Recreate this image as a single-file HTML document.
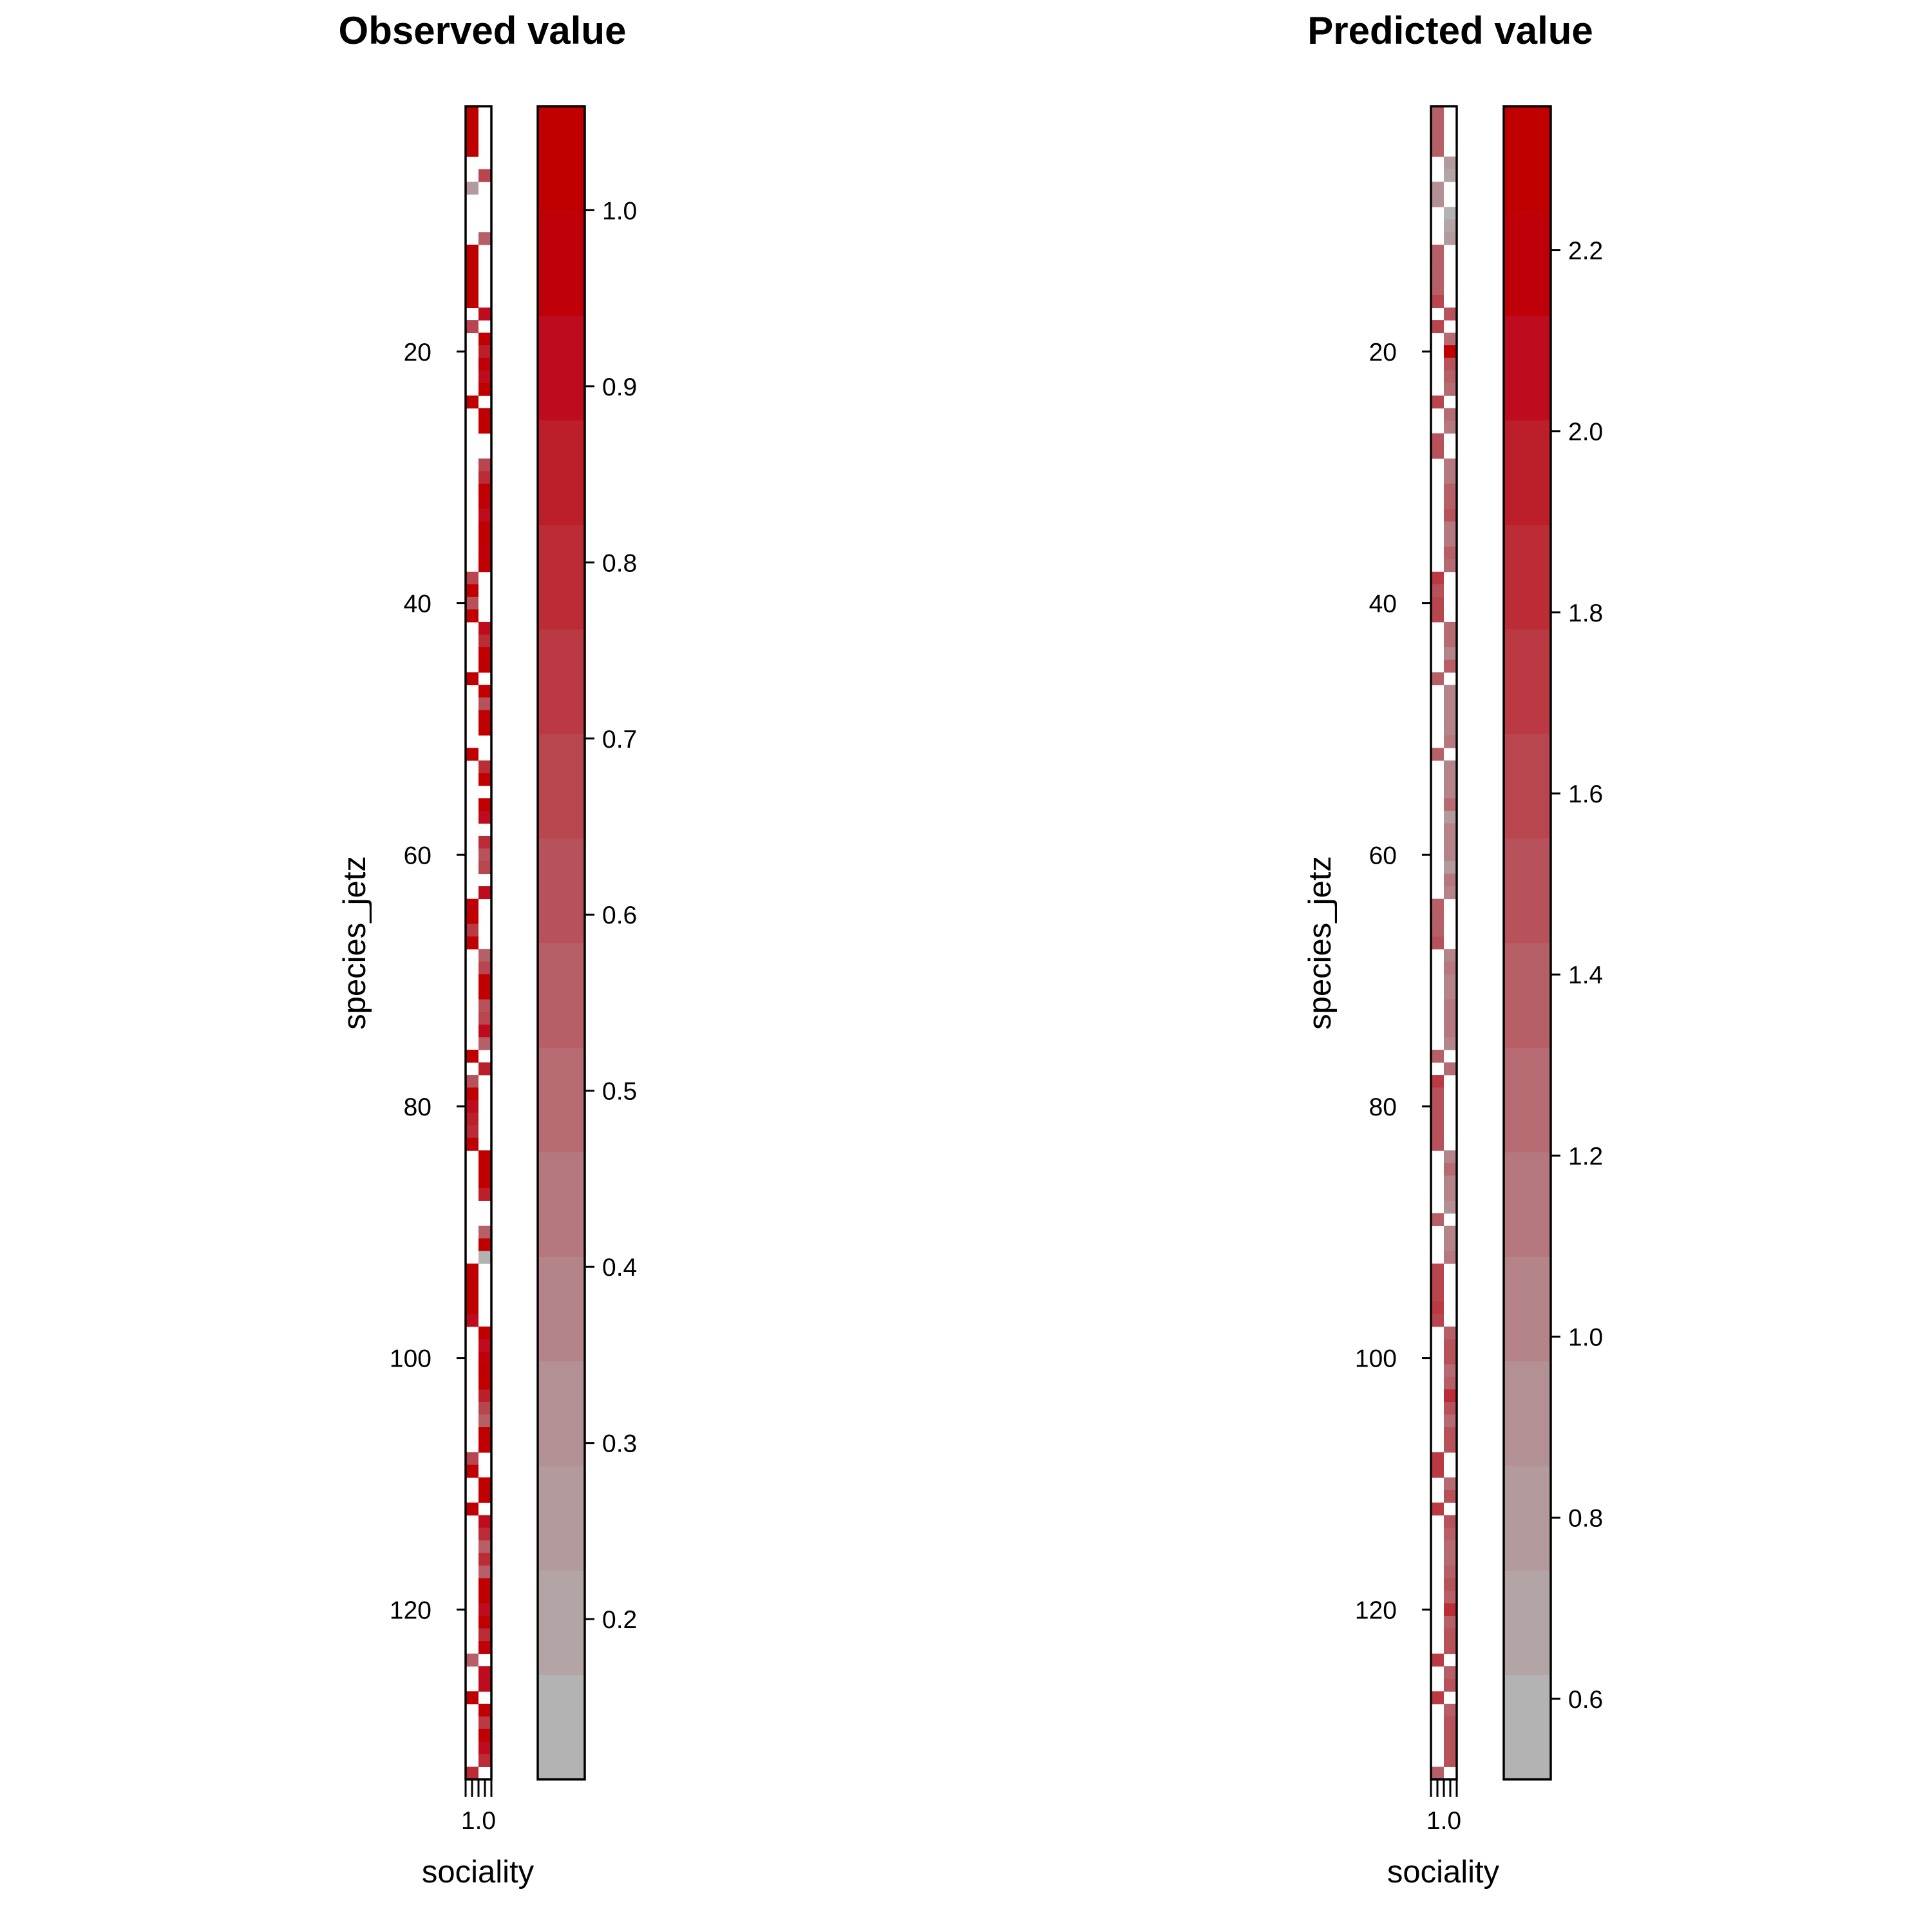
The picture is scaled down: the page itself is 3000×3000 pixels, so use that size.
<!DOCTYPE html>
<html><head><meta charset="utf-8"><style>
html,body{margin:0;padding:0;background:#fff}
svg{display:block}
text{font-family:"Liberation Sans",Arial,sans-serif;fill:#000}
</style></head><body>
<svg id="chart" xmlns="http://www.w3.org/2000/svg" width="3000" height="3000" viewBox="0 0 3000 3000"></svg>
<script>
// ---- data ----
// side: 0 = empty, 1 = left column, 2 = right column
const obsSide = [1,1,1,1,0,2,1,0,0,0,2,1,1,1,1,1,2,1,2,2,2,2,2,1,2,2,0,0,2,2,2,2,2,2,2,2,2,1,1,1,1,2,2,2,2,1,2,2,2,2,0,1,2,2,0,2,2,0,2,2,2,0,2,1,1,1,1,2,2,2,2,2,2,2,2,1,2,1,1,1,1,1,1,2,2,2,2,0,0,2,2,2,1,1,1,1,1,2,2,2,2,2,2,2,2,2,2,1,1,2,2,1,2,2,2,2,2,2,2,2,2,2,2,1,2,2,1,2,2,2,2,2,1];
const obsVal = [1,1,1,1,0,0.65,0.25,0,0,0,0.55,1,1,1,1,1,0.9,0.65,1,0.85,0.95,0.9,1,1,1,1,0,0,0.7,0.8,1,0.95,0.9,1,1,0.95,1,0.7,1,0.6,1,0.9,0.8,1,1,1,1,0.6,1,1,0,1,0.8,1,0,1,0.9,0,0.8,0.6,0.7,0,0.9,0.95,1,0.75,1,0.55,0.65,1,1,0.6,0.65,0.9,0.55,1,0.85,0.6,1,0.9,0.85,0.8,1,1,1,1,0.85,0,0,0.55,1,0.15,1,1,1,1,0.9,1,0.9,0.95,1,1,0.85,0.7,0.55,1,1,0.7,1,1,1,1,0.9,0.8,0.55,0.8,0.55,1,1,0.9,1,0.8,0.95,0.55,0.9,0.9,1,1,0.75,1,0.9,0.8,0.8];
const predSide = [1,1,1,1,2,2,1,1,2,2,2,1,1,1,1,1,2,1,2,2,2,2,2,1,2,2,1,1,2,2,2,2,2,2,2,2,2,1,1,1,1,2,2,2,2,1,2,2,2,2,2,1,2,2,2,2,2,2,2,2,2,2,2,1,1,1,1,2,2,2,2,2,2,2,2,1,2,1,1,1,1,1,1,2,2,2,2,2,1,2,2,2,1,1,1,1,1,2,2,2,2,2,2,2,2,2,2,1,1,2,2,1,2,2,2,2,2,2,2,2,2,2,2,1,2,2,1,2,2,2,2,2,1];
const predVal = [1.4,1.4,1.4,1.4,0.8,0.65,0.9,0.9,0.6,0.7,0.75,1.4,1.4,1.4,1.35,1.6,1.45,1.6,1.3,2.3,1.5,1.4,1.25,1.6,1.25,1.2,1.5,1.5,1.2,1.2,1.4,1.35,1.5,1.1,1.15,1.4,1.3,1.7,1.45,1.6,1.6,1.3,1.3,1.0,1.4,1.35,1.0,1.0,1.0,1.05,1.1,1.35,1.0,1.0,1.0,1.3,0.85,1.0,1.0,1.0,0.85,1.1,1.0,1.4,1.4,1.4,1.5,1.0,1.1,1.0,1.0,1.1,1.1,1.2,1.0,1.4,1.3,1.7,1.45,1.5,1.45,1.45,1.5,1.0,1.3,1.0,1.0,0.9,1.4,1.0,1.0,1.1,1.6,1.6,1.6,1.7,1.65,1.4,1.45,1.5,1.3,1.4,1.8,1.5,1.3,1.5,1.45,1.7,1.7,1.3,1.5,1.7,1.45,1.4,1.3,1.3,1.35,1.45,1.4,1.8,1.4,1.45,1.5,1.7,1.4,1.5,1.75,1.35,1.45,1.5,1.45,1.5,1.4];
const yTicks = [20,40,60,80,100,120];
const obsCbTicks = [0.2,0.3,0.4,0.5,0.6,0.7,0.8,0.9,1.0];
const predCbTicks = [0.6,0.8,1.0,1.2,1.4,1.6,1.8,2.0,2.2];
const obsRange = [0.109,1.059];
const predRange = [0.511,2.359];
const palette = ["#B3B3B3","#B3A5A6","#B39A9C","#B39093","#B48489","#B5787E","#B66B72","#B75F66","#B8525A","#B9454E","#BA3942","#BB2C36","#BC1E2A","#BE0C1E","#C00008","#C00000"];

const NS="http://www.w3.org/2000/svg";
const svg=document.getElementById('chart');
function mk(tag,attrs,parent){const e=document.createElementNS(NS,tag);for(const k in attrs)e.setAttribute(k,attrs[k]);(parent||svg).appendChild(e);return e;}
const TOP=165,BOT=2763,N=obsSide.length,RH=(BOT-TOP)/N;
function yRow(i){return TOP+i*RH;}
function yTick(v){return TOP+(v-0.5)*RH;}
function colorFor(v,r){let k=Math.floor((v-r[0])/(r[1]-r[0])*palette.length);k=Math.max(0,Math.min(palette.length-1,k));return palette[k];}

function panel(cfg){
  const g=mk('g',{});
  
  
  const t=mk('text',{x:cfg.tx,y:68,'text-anchor':'middle','font-size':60,'font-weight':'bold'},g);
  t.textContent=cfg.title;
  
  
  for(let i=0;i<N;i++){
    if(!cfg.side[i])continue;
    const x=cfg.hx+(cfg.side[i]-1)*20;
    const r=mk('rect',{x:x,y:yRow(i),width:20,height:RH+0.5,fill:colorFor(cfg.val[i],cfg.range)},g);
    
    
  }
  const box=mk('rect',{x:cfg.hx,y:TOP,width:40,height:BOT-TOP,fill:'none',stroke:'#000','stroke-width':3.5},g);
  
  
  yTicks.forEach(v=>{
    const y=yTick(v);
    mk('line',{x1:cfg.hx-14,x2:cfg.hx,y1:y,y2:y,stroke:'#000','stroke-width':3},g);
    const l=mk('text',{x:cfg.hx-53,y:y+14,'text-anchor':'end','font-size':39},g);
    l.textContent=v;
    
    
  });
  const yt=mk('text',{x:0,y:0,'text-anchor':'middle','font-size':49,transform:`translate(${cfg.hx-156},${(TOP+BOT)/2}) rotate(-90)`},g);
  yt.textContent='species_jetz';
  
  
  for(let k=0;k<5;k++){const x=cfg.hx+k*10;mk('line',{x1:x,x2:x,y1:BOT,y2:BOT+27,stroke:'#000','stroke-width':3},g);}
  const xl=mk('text',{x:cfg.hx+20,y:2840,'text-anchor':'middle','font-size':39},g);
  xl.textContent='1.0';
  
  
  const xt=mk('text',{x:cfg.hx+19,y:2923,'text-anchor':'middle','font-size':49},g);
  xt.textContent='sociality';
  
  
  const cb=mk('g',{},g);
  
  
  const bh=(BOT-TOP)/palette.length;
  palette.forEach((c,k)=>{
    const r=mk('rect',{x:cfg.cx,y:BOT-(k+1)*bh,width:73,height:bh+0.5,fill:c},cb);
    
    
  });
  mk('rect',{x:cfg.cx,y:TOP,width:73,height:BOT-TOP,fill:'none',stroke:'#000','stroke-width':3.5},cb);
  const r=cfg.range;
  cfg.cbTicks.forEach(v=>{
    const y=BOT-(v-r[0])/(r[1]-r[0])*(BOT-TOP);
    mk('line',{x1:cfg.cx+73,x2:cfg.cx+88,y1:y,y2:y,stroke:'#000','stroke-width':3},cb);
    const l=mk('text',{x:cfg.cx+100,y:y+14,'font-size':39},cb);
    l.textContent=v.toFixed(1);
    
    
  });
}
panel({name:'observed-panel',title:'Observed value',tx:749,hx:723,cx:835,side:obsSide,val:obsVal,range:obsRange,cbTicks:obsCbTicks});
panel({name:'predicted-panel',title:'Predicted value',tx:2252,hx:2222,cx:2335,side:predSide,val:predVal,range:predRange,cbTicks:predCbTicks});
</script>
</body></html>
